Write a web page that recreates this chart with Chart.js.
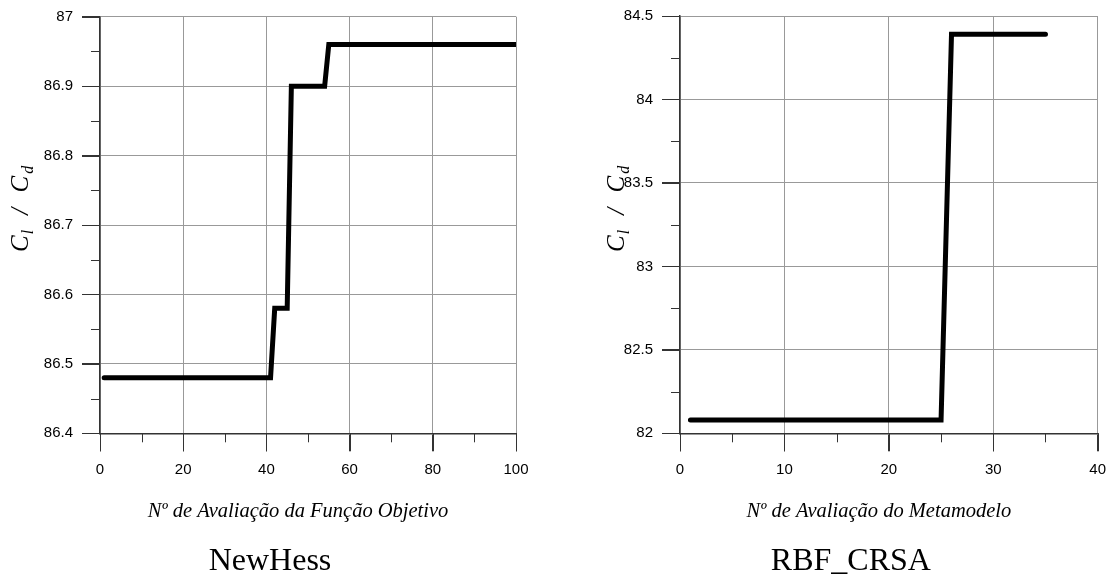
<!DOCTYPE html>
<html>
<head>
<meta charset="utf-8">
<script src="https://cdn.jsdelivr.net/npm/chart.js@4"></script>
<style>
  body { margin: 0; background: #fff; }
  canvas { position: absolute; top: 0; }
  #chartNewHess { left: 0; }
  #chartRbf { left: 560px; }
</style>
</head>
<body>
<canvas id="chartNewHess" width="560" height="579"></canvas>
<canvas id="chartRbf" width="550" height="579"></canvas>
<script>
// NewHess: Cl/Cd history per objective-function evaluation
const newHessEval = [1, 41, 42, 45, 46, 54, 55, 100];
const newHessClCd = [86.48, 86.48, 86.58, 86.58, 86.90, 86.90, 86.96, 86.96];

// RBF_CRSA: Cl/Cd history per metamodel evaluation
const rbfEval = [1, 25, 26, 35];
const rbfClCd = [82.08, 82.08, 84.39, 84.39];

const TICK_FONT = { family: "'Liberation Sans', Arial", size: 15 };
const SERIF = "'Liberation Serif', 'Times New Roman'";
const MAJOR_TICK = 18;
const MINOR_TICK = 9;

// tick marks outside the axes, axis titles and caption under each panel
const decor = {
  id: "decor",
  afterDraw(chart, args, opts) {
    const ctx = chart.ctx;
    const area = chart.chartArea;
    const xs = chart.scales.x;
    const ys = chart.scales.y;
    ctx.save();

    ctx.strokeStyle = "#333";
    ctx.lineWidth = 1;
    ctx.beginPath();
    for (let v = xs.min; v <= xs.max + 1e-9; v += opts.xMinor) {
      const px = Math.round(xs.getPixelForValue(v)) + 0.5;
      ctx.moveTo(px, area.bottom);
      ctx.lineTo(px, area.bottom + MINOR_TICK);
    }
    xs.ticks.forEach((t) => {
      const px = Math.round(xs.getPixelForValue(t.value)) + 0.5;
      ctx.moveTo(px, area.bottom);
      ctx.lineTo(px, area.bottom + MAJOR_TICK);
    });
    for (let v = ys.min; v <= ys.max + 1e-9; v += opts.yMinor) {
      const py = Math.round(ys.getPixelForValue(v)) + 0.5;
      ctx.moveTo(area.left - MINOR_TICK, py);
      ctx.lineTo(area.left, py);
    }
    ys.ticks.forEach((t) => {
      const py = Math.round(ys.getPixelForValue(t.value)) + 0.5;
      ctx.moveTo(area.left - MAJOR_TICK, py);
      ctx.lineTo(area.left, py);
    });
    ctx.stroke();

    const cx = (area.left + area.right) / 2;
    ctx.fillStyle = "#000";
    ctx.textAlign = "center";
    ctx.textBaseline = "middle";
    ctx.font = "italic 20.5px " + SERIF;
    ctx.fillText(opts.xTitle, cx - 10, area.bottom + 78);
    ctx.font = "32px " + SERIF;
    ctx.fillText(opts.caption, cx - 38, area.bottom + 128);

    // C_l / C_d, rotated, reading upwards: [text, size, drop, gap after]
    const parts = [
      ["C", 25, 0, 1],
      ["l", 16, 5, 9],
      [" / ", 25, 0, 9],
      ["C", 25, 0, 2],
      ["d", 16, 5, 0],
    ];
    ctx.translate(area.left - opts.yTitleOffset, opts.yTitleBottom);
    ctx.rotate(-Math.PI / 2);
    ctx.textAlign = "left";
    ctx.textBaseline = "alphabetic";
    let x = 0;
    parts.forEach(([t, s, dy, gap]) => {
      ctx.font = "italic " + s + "px " + SERIF;
      ctx.fillText(t, x, 8 + dy);
      x += ctx.measureText(t).width + gap;
    });
    ctx.restore();
  },
};

function stepChart(canvasId, evals, values, cfg) {
  return new Chart(document.getElementById(canvasId), {
    type: "line",
    data: {
      datasets: [
        {
          data: evals.map((e, i) => ({ x: e, y: values[i] })),
          borderColor: "#000",
          borderWidth: 5,
          borderCapStyle: "round",
          borderJoinStyle: "miter",
          pointRadius: 0,
          tension: 0,
          fill: false,
        },
      ],
    },
    options: {
      responsive: false,
      animation: false,
      devicePixelRatio: 1,
      layout: { padding: { left: 0, right: cfg.padRight, top: cfg.padTop, bottom: 0 } },
      plugins: {
        legend: { display: false },
        tooltip: { enabled: false },
        decor: cfg.decor,
      },
      scales: {
        x: {
          type: "linear",
          min: cfg.xMin,
          max: cfg.xMax,
          ticks: { stepSize: cfg.xStep, color: "#000", font: TICK_FONT, padding: 10, maxRotation: 0 },
          grid: { color: "#999", lineWidth: 1, tickLength: MAJOR_TICK, tickColor: "#333" },
          border: { color: "#333", width: 1.5 },
          afterFit(scale) {
            scale.height = 579 - cfg.bottom;
            // edge labels may overhang; the layout padding already leaves room
            scale.paddingLeft = 0;
            scale.paddingRight = 0;
          },
        },
        y: {
          min: cfg.yMin,
          max: cfg.yMax,
          ticks: {
            stepSize: cfg.yStep,
            color: "#000",
            font: TICK_FONT,
            padding: 9,
            callback: (v) => String(+v.toFixed(2)),
          },
          grid: { color: "#999", lineWidth: 1, tickLength: MAJOR_TICK, tickColor: "#333" },
          border: { color: "#333", width: 1.5 },
          afterFit(scale) {
            scale.width = cfg.yWidth;
            scale.paddingTop = 0;
            scale.paddingBottom = 0;
          },
        },
      },
    },
    plugins: [decor],
  });
}

stepChart("chartNewHess", newHessEval, newHessClCd, {
  xMin: 0, xMax: 100, xStep: 20,
  yMin: 86.4, yMax: 87, yStep: 0.1,
  yWidth: 100, padRight: 44, padTop: 16.7, bottom: 433.3,
  decor: {
    xMinor: 10, yMinor: 0.05, yTitleOffset: 80, yTitleBottom: 252,
    xTitle: "Nº de Avaliação da Função Objetivo",
    caption: "NewHess",
  },
});

stepChart("chartRbf", rbfEval, rbfClCd, {
  xMin: 0, xMax: 40, xStep: 10,
  yMin: 82, yMax: 84.5, yStep: 0.5,
  yWidth: 120, padRight: 12.3, padTop: 16, bottom: 433.3,
  decor: {
    xMinor: 5, yMinor: 0.25, yTitleOffset: 64, yTitleBottom: 252,
    xTitle: "Nº de Avaliação do Metamodelo",
    caption: "RBF_CRSA",
  },
});
</script>
</body>
</html>
